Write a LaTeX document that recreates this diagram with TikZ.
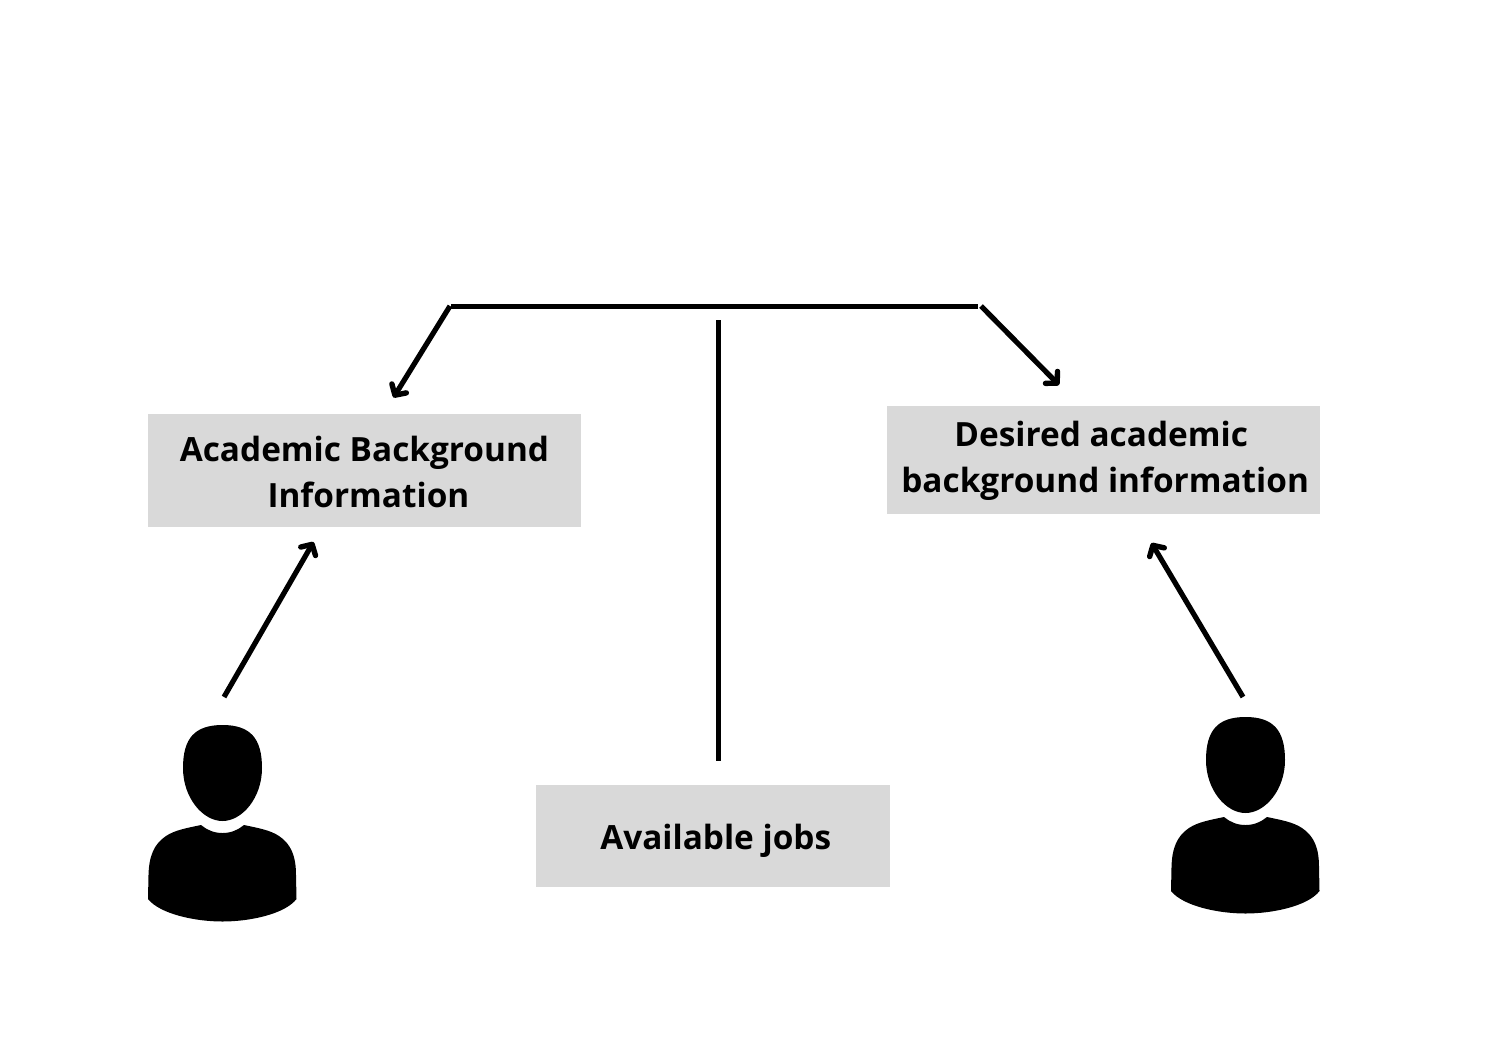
\documentclass[tikz,border=0pt]{standalone}
\usepackage{fontspec}
\setmainfont{Open Sans}
\usetikzlibrary{arrows.meta}
\definecolor{boxgray}{HTML}{D9D9D9}
\tikzset{
  infobox/.style={fill=boxgray,inner sep=0pt,align=center,anchor=north west,font=\fontsize{33.36}{46}\selectfont\bfseries},
  barb/.style={line width=5.2pt,line cap=butt,-{Straight Barb[length=8pt,width=17pt,line width=5.4pt,round]}},
  plainline/.style={line width=5.4pt},
  stemline/.style={line width=5pt},
}
\newcommand{\personicon}[2]{%
  \begin{scope}[shift={(#1,#2)}]
    \fill[black] (222.5,725) .. controls (195,725) and (183,738) .. (183,768)
      .. controls (183,798) and (203,821) .. (222.5,821)
      .. controls (242,821) and (262,798) .. (262,768)
      .. controls (262,738) and (250,725) .. (222.5,725) -- cycle;
    \fill[black] (201,825) .. controls (207,830) and (214,833) .. (222.5,833)
      .. controls (231,833) and (238,830) .. (244,825)
      .. controls (258,828) and (270,830) .. (279,836)
      .. controls (291,844) and (296,856) .. (296,875)
      -- (296.5,899)
      .. controls (285,914) and (250,921.5) .. (222.5,921.5)
      .. controls (195,921.5) and (160,914) .. (148,899)
      -- (148.5,875)
      .. controls (149,856) and (154,844) .. (166,836)
      .. controls (175,830) and (187,828) .. (201,825) -- cycle;
  \end{scope}}
\begin{document}
\begin{tikzpicture}[x=1pt,y=-1pt]
\useasboundingbox (0,0) rectangle (1485,1047);
\node[infobox,minimum width=432.5pt,minimum height=113pt] (acad) at (148,414) {\rule{0pt}{27.5pt}Academic Background\\\hspace*{8pt}Information};
\node[infobox,minimum width=433pt,minimum height=107.5pt] (desired) at (887,406) {\rule{0pt}{27.5pt}Desired academic\hspace*{5pt}\\\hspace*{3pt}background information};
\node[infobox,minimum width=354pt,minimum height=102pt] (jobs) at (536,785) {\rule{0pt}{35.3pt}\hspace*{5pt}Available jobs};
\personicon{0}{0}
\personicon{1023}{-8}
\coordinate (barL) at (451,306.5);
\coordinate (barR) at (978,306.5);
\coordinate (diagL) at (450,306);
\coordinate (diagR) at (981,306);
\coordinate (tipL) at (393.5,397.5);
\coordinate (tipR) at (1059,385);
\coordinate (stemT) at (718,320);
\coordinate (stemB) at (718,760.5);
\coordinate (userL) at (224,697);
\coordinate (userLtip) at (313.5,542);
\coordinate (userR) at (1243,697);
\coordinate (userRtip) at (1151.5,543);
\draw[plainline] (barL) -- (barR);
\draw[stemline] (stemT) -- (stemB);
\draw[barb] (diagL) -- (tipL);
\draw[barb] (diagR) -- (tipR);
\draw[barb] (userL) -- (userLtip);
\draw[barb] (userR) -- (userRtip);
\end{tikzpicture}
\end{document}
